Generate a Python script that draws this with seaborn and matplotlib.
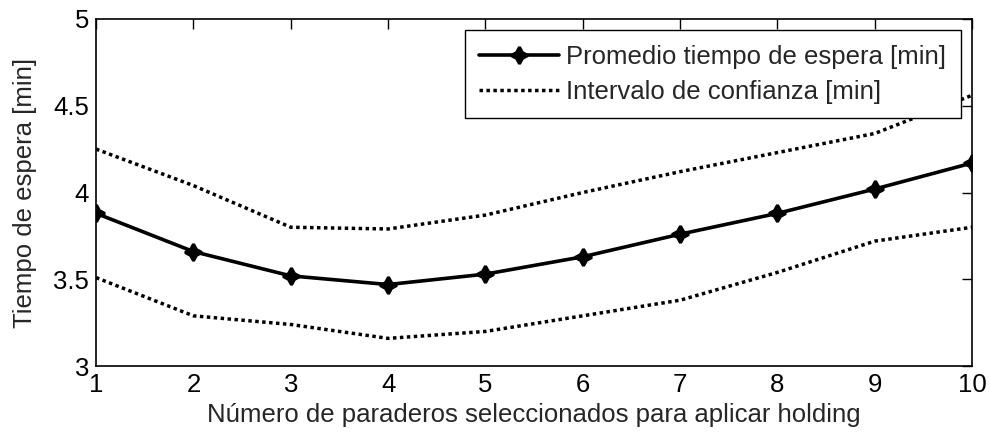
import numpy as np
import pandas as pd
import matplotlib
matplotlib.use("Agg")
import matplotlib.pyplot as plt
import seaborn as sns

# datos
paraderos = [1, 2, 3, 4, 5, 6, 7, 8, 9, 10]
promedio = [3.88, 3.66, 3.52, 3.47, 3.53, 3.63, 3.76, 3.88, 4.02, 4.17]
ic_sup = [4.25, 4.04, 3.80, 3.79, 3.87, 4.00, 4.12, 4.23, 4.34, 4.56]
ic_inf = [3.51, 3.29, 3.24, 3.16, 3.20, 3.29, 3.38, 3.54, 3.72, 3.80]

df = pd.DataFrame({"x": paraderos, "prom": promedio, "sup": ic_sup, "inf": ic_inf})

sns.set_style("white")
plt.rcParams['font.family'] = ['Liberation Sans', 'DejaVu Sans']
fs = 18.5

fig, ax = plt.subplots(figsize=(9.9, 4.38), dpi=100)
fig.subplots_adjust(left=0.097, right=0.982, bottom=0.164, top=0.957)

sns.lineplot(data=df, x="x", y="prom", ax=ax, color="black", lw=2.6,
             marker=(4, 1, 0), markersize=12, markeredgewidth=2.2,
             markeredgecolor="black", label="Promedio tiempo de espera [min]")
sns.lineplot(data=df, x="x", y="sup", ax=ax, color="black", lw=2.5,
             dashes=False, label="Intervalo de confianza [min]")
sns.lineplot(data=df, x="x", y="inf", ax=ax, color="black", lw=2.5,
             dashes=False)
for ln in ax.lines[1:]:
    ln.set_dashes((1, 1))

ax.set_xlim(1, 10)
ax.set_ylim(3, 5)
ax.set_xticks(range(1, 11))
ax.set_yticks([3, 3.5, 4, 4.5, 5])
ax.set_yticklabels(["3", "3.5", "4", "4.5", "5"])
ax.set_xlabel("Número de paraderos seleccionados para aplicar holding", fontsize=fs, labelpad=4)
ax.set_ylabel("Tiempo de espera [min]", fontsize=fs, labelpad=12)
ax.tick_params(direction="in", length=7, width=1, top=True, right=True,
               labelsize=fs, colors="black", pad=5)
for s in ax.spines.values():
    s.set_color("black")
    s.set_linewidth(1.2)

leg = ax.legend(loc="upper right", fontsize=fs, frameon=True, fancybox=False,
                edgecolor="black", framealpha=1, handlelength=3.1,
                handletextpad=0.3, borderaxespad=0.45, labelspacing=0.45,
                borderpad=0.55)
leg.get_frame().set_linewidth(1)

plt.savefig("out.png", dpi=100)
